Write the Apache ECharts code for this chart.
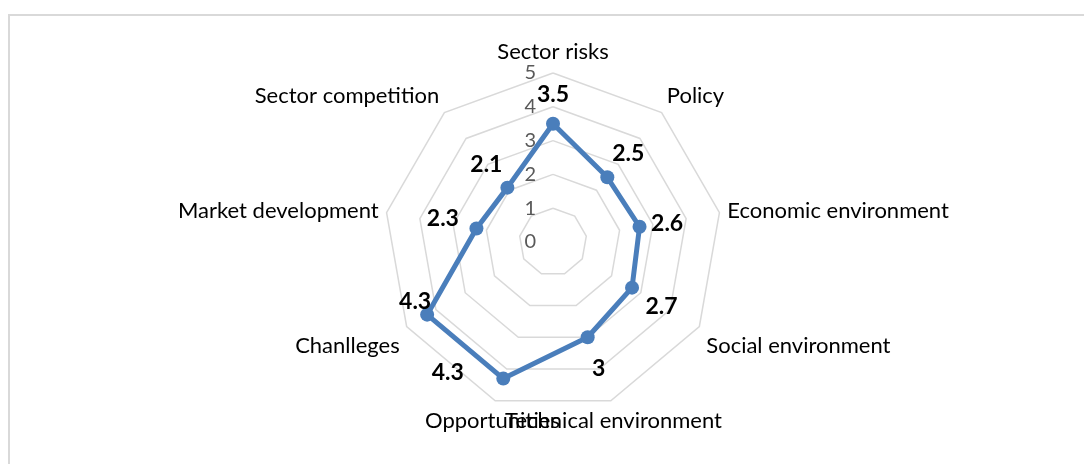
<!DOCTYPE html>
<html>
<head>
<meta charset="utf-8">
<script src="https://cdn.jsdelivr.net/npm/echarts@6/dist/echarts.min.js"></script>
<style>
  html, body { margin: 0; padding: 0; background: #fff; }
  #main { width: 1084px; height: 464px; }
</style>
</head>
<body>
<div id="main"></div>
<script>
// listed clockwise from the top, as in the picture
var indicatorNames = ['Sector risks', 'Policy', 'Economic environment', 'Social environment',
    'Technical environment', 'Opportunities', 'Chanlleges', 'Market development', 'Sector competition'];
var scores = [3.5, 2.5, 2.6, 2.7, 3, 4.3, 4.3, 2.3, 2.1];
var maxScore = 5;

// name alignment per axis  [align, verticalAlign, padTop]
var namePlace = [
    [null, 'bottom', 0], [null, 'bottom', 0], [null, 'middle', 0], [null, 'top', 4],
    ['center', 'top', 2], ['center', 'top', 2], [null, 'top', 4], [null, 'middle', 0], [null, 'bottom', 0]
];
// where Excel put each data label (position, offset)
var labelPlace = [
    ['top', [0, -6]],
    ['top', [21, -1]],
    ['right', [0, -3]],
    ['right', [2, 19]],
    ['bottom', [11, 8]],
    ['left', [-28, -6]],
    ['top', [-12, 10]],
    ['left', [-6, -10]],
    ['top', [-21, 0]]
];

// echarts lays radar axes out counter-clockwise, so keep the first and reverse the rest
function cw(arr) {
    return [arr[0]].concat(arr.slice(1).reverse());
}
var order = cw(indicatorNames.map(function (n, i) { return i; }));

var myChart = echarts.init(document.getElementById('main'));

var indicator = order.map(function (i, pos) {
    var item = { name: indicatorNames[i], max: maxScore, min: 0 };
    if (pos > 0) item.axisLabel = { show: false };
    var ts = {};
    if (namePlace[i][0]) ts.align = namePlace[i][0];
    if (namePlace[i][1]) ts.verticalAlign = namePlace[i][1];
    if (namePlace[i][2]) ts.padding = [namePlace[i][2], 0, 0, 0];
    item.nameTextStyle = ts;
    return item;
});
var values = order.map(function (i) { return scores[i]; });

var series = [{
    type: 'radar',
    symbol: 'circle',
    symbolSize: 14,
    lineStyle: { color: '#4a7ebb', width: 5 },
    itemStyle: { color: '#4a7ebb' },
    data: [{ value: values }],
    z: 2
}];

// one invisible series per vertex, just to place its label
order.forEach(function (i, pos) {
    var p = labelPlace[i];
    series.push({
        type: 'radar',
        symbol: 'circle',
        symbolSize: 13,
        silent: true,
        lineStyle: { opacity: 0 },
        itemStyle: { color: 'rgba(0,0,0,0)' },
        label: {
            show: true,
            position: p[0],
            offset: p[1],
            distance: 5,
            color: '#000',
            fontWeight: 'bold',
            fontSize: 23,
            fontFamily: 'Lato',
            formatter: function (params) {
                return params.dimensionIndex === pos ? String(params.value) : '';
            }
        },
        data: [{ value: values }],
        z: 3
    });
});

myChart.setOption({
    backgroundColor: '#fff',
    animation: false,
    graphic: [{
        type: 'rect',
        shape: { x: 9, y: 15, width: 1200, height: 600 },
        style: { fill: 'none', stroke: '#d9d9d9', lineWidth: 2 },
        silent: true
    }],
    radar: {
        center: [553, 242],
        radius: 169,
        startAngle: 90,
        splitNumber: 5,
        shape: 'polygon',
        nameGap: 8,
        axisName: { color: '#000', fontSize: 22, fontFamily: 'Lato' },
        axisLine: { show: false },
        axisTick: { show: false },
        axisLabel: { show: true, color: '#595959', fontSize: 20, fontFamily: 'Lato', margin: 17 },
        splitLine: { lineStyle: { color: '#d9d9d9', width: 1.5 } },
        splitArea: { show: false },
        indicator: indicator
    },
    series: series
});
</script>
</body>
</html>
